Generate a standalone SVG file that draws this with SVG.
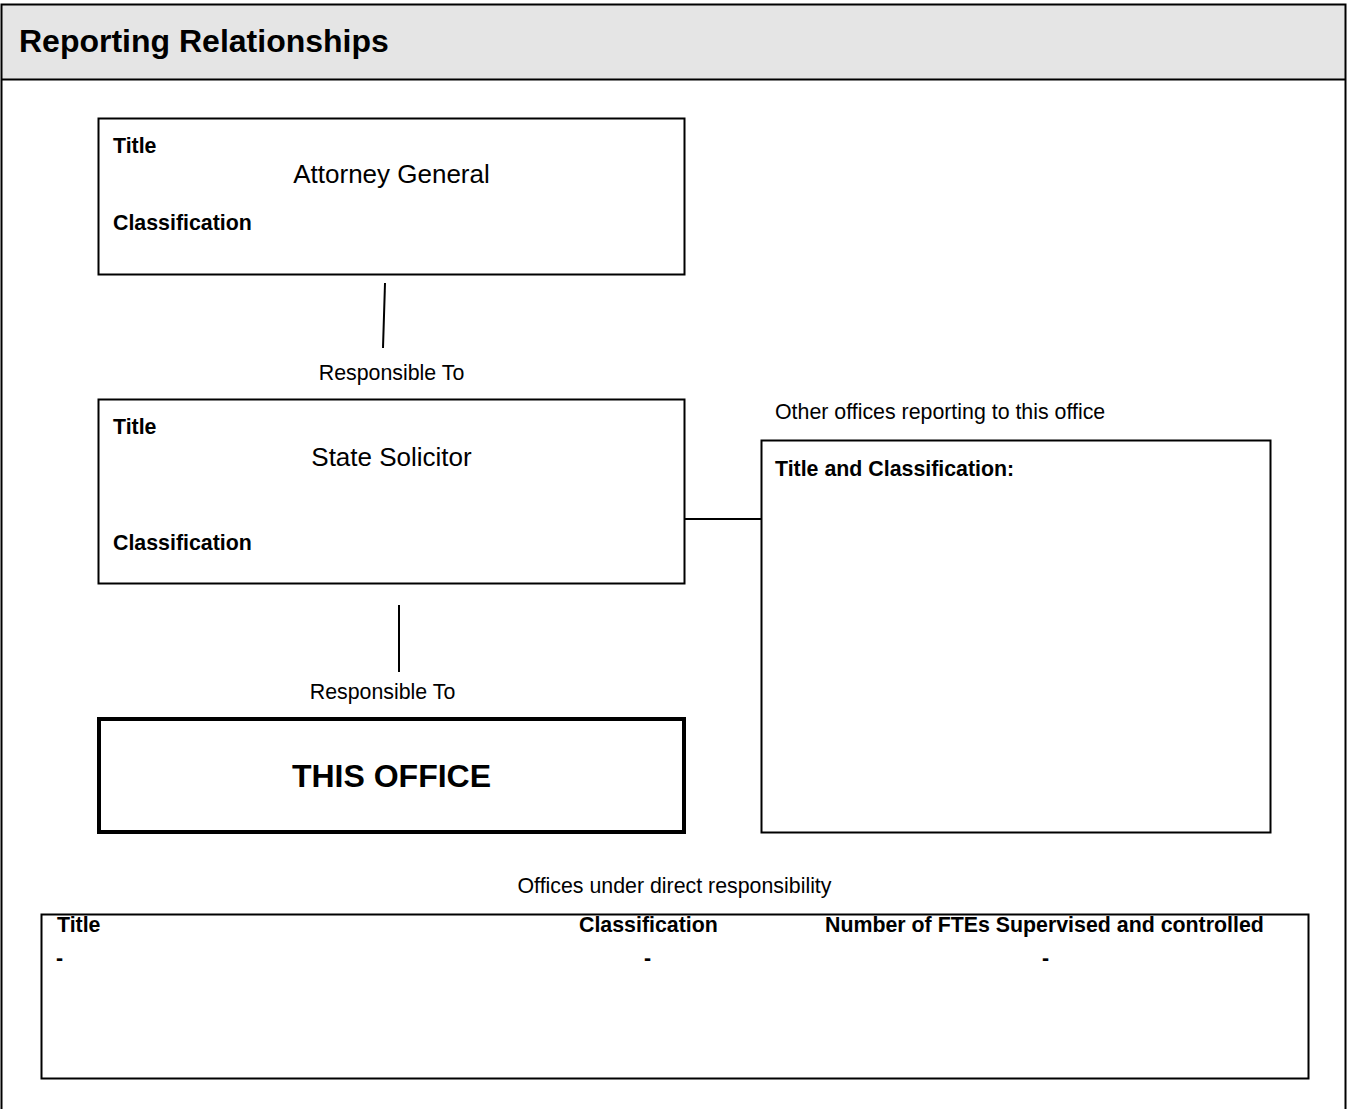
<svg xmlns="http://www.w3.org/2000/svg" width="1349" height="1109" viewBox="0 0 1349 1109">
<style>
text{font-family:"Liberation Sans",Arial,sans-serif;fill:#000}
.b{font-weight:bold;font-size:21.35px}
.r{font-size:21.35px}
.box{fill:#fff;stroke:#000;stroke-width:2}
.ln{stroke:#000;stroke-width:2;fill:none}
.c{text-anchor:middle}
</style>
<rect width="1349" height="1109" fill="#fff"/>
<g id="frame">
<rect x="1.5" y="4.5" width="1344" height="75" fill="#e5e5e5"/>
<rect x="1.5" y="4.5" width="1344" height="1200" fill="none" stroke="#000" stroke-width="2"/>
<line x1="1.5" y1="79.5" x2="1345.5" y2="79.5" class="ln"/>
<text x="19" y="52" style="font-size:32px;font-weight:bold">Reporting Relationships</text>
</g>
<g id="connectors">
<line x1="385" y1="283" x2="383" y2="348" class="ln"/>
<line x1="399" y1="605" x2="399" y2="672" class="ln"/>
<line x1="685" y1="519" x2="761" y2="519" class="ln"/>
</g>
<g id="attorney-general">
<rect x="98.5" y="118.5" width="586" height="156" class="box"/>
<text x="113" y="153" class="b">Title</text>
<text x="391.5" y="183" class="r c" style="font-size:26px">Attorney General</text>
<text x="113" y="230" class="b">Classification</text>
</g>
<g id="label-1">
<text x="391.5" y="380" class="r c">Responsible To</text>
</g>
<g id="state-solicitor">
<rect x="98.5" y="399.5" width="586" height="184" class="box"/>
<text x="113" y="434" class="b">Title</text>
<text x="391.5" y="466" class="r c" style="font-size:26px">State Solicitor</text>
<text x="113" y="550" class="b">Classification</text>
</g>
<g id="label-2">
<text x="382.5" y="699" class="r c">Responsible To</text>
</g>
<g id="this-office">
<rect x="99" y="719" width="585" height="113" fill="#fff" stroke="#000" stroke-width="4"/>
<text x="391.5" y="787" class="c" style="font-size:32px;font-weight:bold">THIS OFFICE</text>
</g>
<g id="other-offices">
<text x="775" y="419" class="r">Other offices reporting to this office</text>
<rect x="761.5" y="440.5" width="509" height="392" class="box"/>
<text x="775" y="476" class="b">Title and Classification:</text>
</g>
<g id="direct-offices">
<text x="674.5" y="893" class="r c">Offices under direct responsibility</text>
<rect x="41.5" y="914.5" width="1267" height="164" class="box"/>
<text x="57" y="932" class="b">Title</text>
<text x="579" y="932" class="b">Classification</text>
<text x="825" y="932" class="b">Number of FTEs Supervised and controlled</text>
<text x="56" y="965" class="b">-</text>
<text x="644" y="965" class="b">-</text>
<text x="1042" y="965" class="b">-</text>
</g>
</svg>
